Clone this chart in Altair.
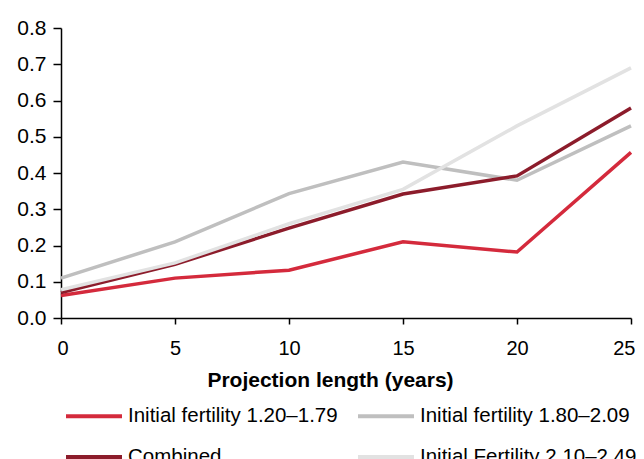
import altair as alt
import pandas as pd

years = [0, 5, 10, 15, 20, 25]
series_names = ["Initial fertility 1.20–1.79", "Initial fertility 1.80–2.09",
                "Combined", "Initial Fertility 2.10–2.49"]
low = [0.062, 0.11, 0.132, 0.21, 0.182, 0.457]
mid = [0.11, 0.21, 0.343, 0.43, 0.38, 0.53]
combined = [0.07, 0.148, 0.248, 0.342, 0.392, 0.579]
high = [0.078, 0.152, 0.26, 0.355, 0.53, 0.69]
colors = ["#d42a3c", "#bfbfbf", "#8c1c2b", "#e2e2e2"]

rows = []
for name, vals in zip(series_names, [low, mid, combined, high]):
    for x, v in zip(years, vals):
        rows.append({"year": x, "value": v, "series": name})
df = pd.DataFrame(rows)

font = "Liberation Sans"

chart = alt.Chart(df).mark_line(strokeWidth=3.5).encode(
    x=alt.X("year:Q", scale=alt.Scale(domain=[0, 25], nice=False),
            axis=alt.Axis(values=years, title="Projection length (years)", grid=False,
                          labelFontSize=20, labelFont=font, labelColor="#000",
                          labelFlush=True, labelFlushOffset=4,
                          titleFontSize=21, titleFont=font, titleFontWeight="bold",
                          titleColor="#000", titlePadding=11, titleX=269,
                          labelPadding=14,
                          tickSize=6, domainColor="#000", tickColor="#000",
                          domainWidth=1.5, tickWidth=1.5)),
    y=alt.Y("value:Q", scale=alt.Scale(domain=[0, 0.8], nice=False),
            axis=alt.Axis(values=[0, 0.1, 0.2, 0.3, 0.4, 0.5, 0.6, 0.7, 0.8], format=".1f",
                          title=None, grid=False, labelFontSize=21, labelFont=font,
                          labelColor="#000", tickSize=8, labelPadding=7,
                          domainColor="#000", tickColor="#000",
                          domainWidth=1.5, tickWidth=1.5)),
    color=alt.Color("series:N", scale=alt.Scale(domain=series_names, range=colors),
                    sort=series_names,
                    legend=alt.Legend(title=None, orient="none", legendX=3, legendY=358,
                                      direction="horizontal", columns=2,
                                      symbolType="stroke", symbolSize=3136,
                                      symbolStrokeWidth=4, labelFontSize=20.5, labelLimit=400,
                                      labelFont=font, labelColor="#000", padding=0,
                                      columnPadding=12, rowPadding=-18, labelOffset=4)),
    detail="series:N",
).properties(
    width=570, height=290,
    autosize=alt.AutoSizeParams(type="none"),
    padding={"left": 53, "top": 20, "right": 5, "bottom": 141},
).configure_view(stroke=None)

chart.save("out.html", embed_options={"renderer": "svg", "actions": False})
